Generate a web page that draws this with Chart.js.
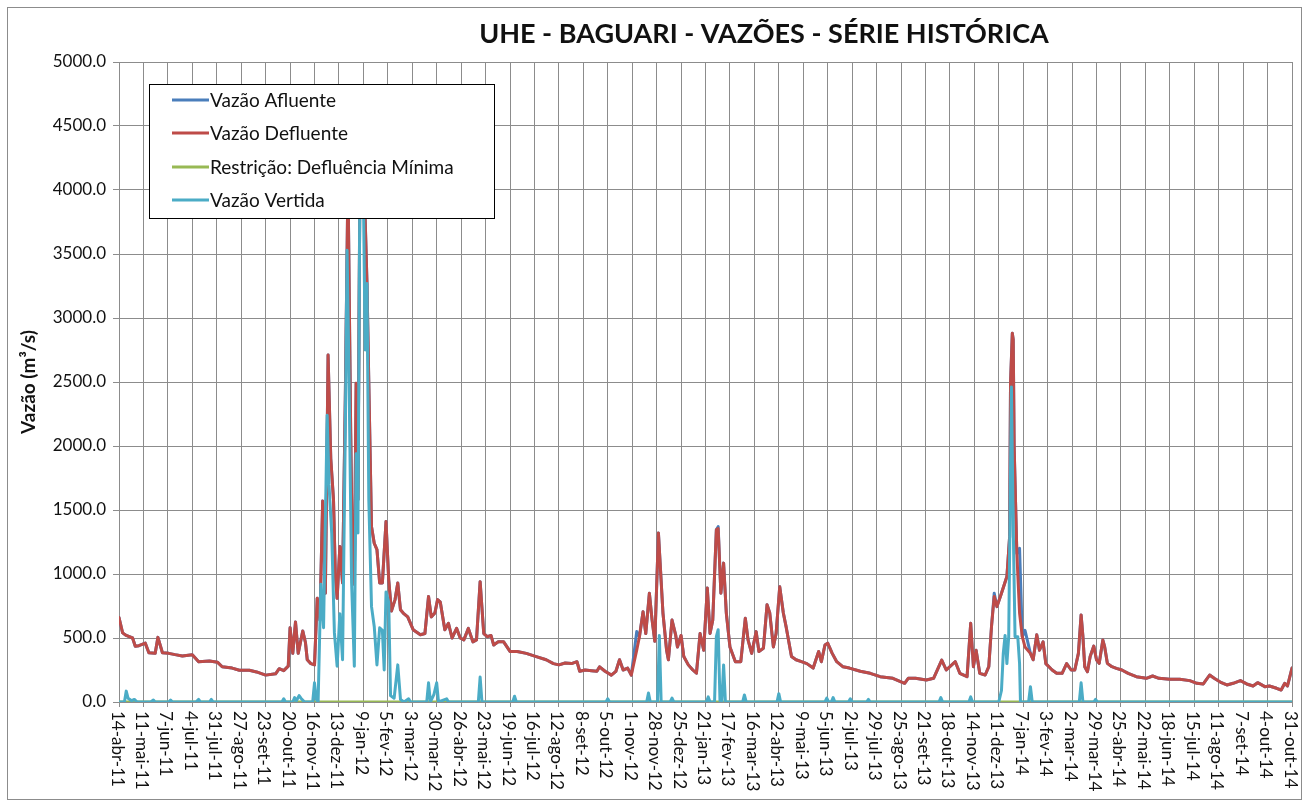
<!DOCTYPE html>
<html lang="pt-BR">
<head>
<meta charset="utf-8">
<title>UHE - Baguari - Vazões</title>
<script src="https://cdn.jsdelivr.net/npm/chart.js@4.4.1/dist/chart.umd.min.js"></script>
<style>
  html, body { margin: 0; padding: 0; background: #fff; }
  #wrap { width: 1309px; height: 806px; position: relative; }
</style>
</head>
<body>
<div id="wrap"><canvas id="chart"></canvas></div>
<script>
const TITULO = 'UHE - BAGUARI - VAZÕES - SÉRIE HISTÓRICA';
const TITULO_Y = 'Vazão (m³/s)';

// one label every 27 days, starting 14-abr-11 (day 0)
const PASSO_DIAS = 27;
const DATAS = [
  '14-abr-11', '11-mai-11', '7-jun-11', '4-jul-11', '31-jul-11', '27-ago-11', '23-set-11',
  '20-out-11', '16-nov-11', '13-dez-11', '9-jan-12', '5-fev-12', '3-mar-12', '30-mar-12',
  '26-abr-12', '23-mai-12', '19-jun-12', '16-jul-12', '12-ago-12', '8-set-12', '5-out-12',
  '1-nov-12', '28-nov-12', '25-dez-12', '21-jan-13', '17-fev-13', '16-mar-13', '12-abr-13',
  '9-mai-13', '5-jun-13', '2-jul-13', '29-jul-13', '25-ago-13', '21-set-13', '18-out-13',
  '14-nov-13', '11-dez-13', '7-jan-14', '3-fev-14', '2-mar-14', '29-mar-14', '25-abr-14',
  '22-mai-14', '18-jun-14', '15-jul-14', '11-ago-14', '7-set-14', '4-out-14', '31-out-14',
];

// [dia, vazão m³/s]
const DEFLUENTE = [
  [0, 660], [4, 540], [8, 520], [15, 500], [18, 435], [22, 440], [29, 460], [33, 385], [40, 380],
  [43, 505], [48, 385], [55, 380], [62, 370], [70, 360], [81, 370], [88, 315], [100, 320],
  [109, 310], [114, 275], [125, 265], [133, 248], [144, 248], [152, 235], [162, 210], [173, 220],
  [177, 260], [182, 245], [187, 280], [189, 580], [192, 380], [195, 625], [198, 380], [203, 555],
  [206, 465], [208, 330], [212, 300], [216, 290], [219, 810], [222, 640], [225, 1570], [228, 850],
  [231, 2710], [234, 1900], [237, 1580], [239, 1000], [241, 810], [244, 1215], [247, 930],
  [250, 2360], [253, 4100], [256, 2100], [258, 1060], [260, 920], [262, 2490], [264, 1580],
  [266, 3900], [270, 4000], [272, 3770], [274, 3270], [276, 2490], [279, 1370], [282, 1240],
  [285, 1190], [288, 930], [291, 930], [295, 1410], [298, 955], [301, 710], [305, 800], [308, 930],
  [311, 720], [314, 695], [319, 665], [325, 565], [333, 525], [338, 535], [342, 825], [345, 665],
  [349, 695], [352, 800], [355, 780], [360, 565], [364, 615], [368, 500], [373, 575], [377, 500],
  [381, 485], [386, 575], [391, 470], [395, 485], [399, 940], [403, 535], [407, 510], [411, 520],
  [414, 445], [419, 470], [425, 470], [432, 395], [440, 395], [450, 380], [461, 355], [472, 330],
  [480, 300], [486, 290], [493, 305], [500, 300], [506, 315], [509, 240], [515, 250], [522, 245],
  [528, 240], [531, 275], [537, 240], [544, 210], [549, 240], [553, 330], [557, 250], [562, 265],
  [566, 210], [572, 405], [575, 510], [579, 705], [582, 535], [586, 850], [589, 640], [592, 475],
  [596, 1320], [601, 695], [605, 405], [607, 330], [611, 640], [615, 525], [617, 430], [621, 520],
  [624, 355], [629, 290], [634, 250], [638, 225], [642, 535], [646, 405], [650, 890], [653, 535],
  [656, 640], [660, 1345], [662, 1355], [665, 850], [668, 1085], [671, 695], [675, 430], [681, 315],
  [687, 315], [692, 655], [695, 485], [699, 380], [704, 550], [707, 395], [712, 420], [716, 760],
  [719, 695], [723, 430], [726, 535], [730, 900], [734, 695], [737, 590], [743, 355], [748, 330],
  [754, 315], [760, 300], [767, 265], [773, 395], [776, 315], [780, 445], [783, 460], [788, 380],
  [793, 315], [800, 275], [807, 265], [819, 240], [830, 224], [841, 198], [855, 185], [868, 146],
  [872, 185], [880, 185], [892, 172], [900, 185], [909, 328], [914, 250], [924, 315], [929, 224],
  [937, 198], [941, 615], [944, 276], [947, 405], [951, 224], [957, 211], [961, 276], [964, 590],
  [967, 825], [970, 745], [975, 850], [981, 980], [984, 1290], [985, 2490], [987, 2880], [988, 2830],
  [989, 2000], [992, 1160], [995, 695], [998, 510], [1001, 430], [1007, 380], [1010, 330],
  [1014, 525], [1017, 405], [1021, 470], [1024, 300], [1031, 250], [1036, 224], [1042, 224],
  [1047, 300], [1052, 250], [1056, 250], [1060, 380], [1063, 680], [1065, 510], [1067, 276],
  [1070, 237], [1073, 355], [1077, 437], [1080, 330], [1083, 302], [1087, 484], [1089, 432],
  [1092, 302], [1097, 276], [1102, 263], [1108, 250], [1115, 224], [1124, 198], [1135, 185],
  [1142, 203], [1149, 185], [1161, 177], [1172, 177], [1183, 167], [1191, 146], [1198, 141],
  [1205, 211], [1210, 185], [1218, 151], [1224, 133], [1231, 146], [1239, 167], [1246, 141],
  [1253, 125], [1258, 151], [1266, 120], [1271, 125], [1279, 107], [1284, 94], [1288, 146],
  [1291, 125], [1296, 265],
];

// afluente sits under defluente almost everywhere; these are the days where it shows above it
const AFLUENTE_DIFERENCAS = [[572, 550], [662, 1370], [967, 850], [995, 1200], [1001, 560]];

const RESTRICAO = [[0, 0], [1296, 0]];

const VERTIDA = [
  [0, 0], [6, 0], [8, 85], [10, 30], [14, 10], [17, 20], [20, 0], [35, 0], [38, 15], [40, 0],
  [55, 0], [57, 15], [59, 0], [85, 0], [88, 20], [90, 0], [100, 0], [102, 20], [104, 0],
  [180, 0], [182, 25], [184, 0], [192, 0], [194, 35], [196, 10], [199, 50], [201, 30], [205, 0],
  [214, 0], [216, 150], [218, 20], [220, 0], [223, 920], [226, 580], [230, 2240], [232, 1700],
  [235, 1320], [238, 540], [241, 280], [244, 690], [247, 330], [250, 2100], [252, 3530],
  [254, 2620], [257, 930], [260, 280], [262, 1940], [264, 1320], [266, 3900], [270, 4000],
  [272, 2750], [274, 3270], [276, 1580], [279, 745], [282, 590], [285, 290], [288, 580], [291, 560],
  [293, 250], [295, 860], [298, 780], [300, 50], [304, 30], [308, 290], [311, 20], [315, 0],
  [320, 25], [322, 0], [340, 0], [342, 150], [344, 0], [348, 60], [351, 150], [353, 0], [362, 25],
  [364, 0], [397, 0], [399, 195], [401, 0], [435, 0], [437, 45], [439, 0], [538, 0], [540, 25],
  [542, 0], [583, 0], [585, 70], [587, 0], [595, 0], [597, 520], [599, 0], [609, 0], [611, 30],
  [613, 0], [649, 0], [651, 40], [653, 0], [658, 0], [660, 510], [662, 565], [664, 10], [666, 0],
  [668, 290], [670, 0], [689, 0], [691, 55], [693, 0], [727, 0], [729, 65], [731, 0], [780, 0],
  [782, 30], [784, 0], [787, 0], [789, 35], [791, 0], [806, 0], [808, 25], [810, 0], [826, 0],
  [828, 20], [830, 0], [906, 0], [908, 34], [910, 0], [939, 0], [941, 40], [943, 0], [972, 0],
  [975, 90], [977, 380], [979, 520], [981, 300], [983, 510], [984, 1160], [986, 2460], [988, 1370],
  [990, 510], [993, 510], [995, 300], [996, 0], [1005, 0], [1007, 120], [1009, 0], [1061, 0],
  [1063, 150], [1065, 0], [1077, 0], [1079, 20], [1081, 0], [1296, 0],
];

const FONTE = 'Lato, "Open Sans", sans-serif';
const COR_GRADE = '#8c8c8c';

const toXY = (pares) => pares.map(([x, y]) => ({ x, y }));
const difMap = new Map(AFLUENTE_DIFERENCAS);
const afluente = DEFLUENTE.map(([d, v]) => [d, difMap.has(d) ? difMap.get(d) : v]);

const decoracao = {
  id: 'decoracao',
  afterDraw(chart) {
    const { ctx } = chart;
    const xScale = chart.scales.x;
    ctx.save();

    // outer frame
    ctx.strokeStyle = COR_GRADE;
    ctx.lineWidth = 1;
    ctx.strokeRect(7.5, 7.5, 1294, 792);

    // title
    ctx.fillStyle = '#111';
    ctx.font = `bold 27px ${FONTE}`;
    ctx.textAlign = 'center';
    ctx.textBaseline = 'alphabetic';
    ctx.fillText(TITULO, 764, 43);

    // date labels, rotated clockwise
    ctx.font = `17px ${FONTE}`;
    ctx.textAlign = 'left';
    ctx.textBaseline = 'middle';
    DATAS.forEach((label, i) => {
      const x = xScale.getPixelForValue(i * PASSO_DIAS);
      ctx.save();
      ctx.translate(x - 2, 711);
      ctx.rotate(Math.PI / 2);
      ctx.fillText(label, 0, 0);
      ctx.restore();
    });

    // legend box inside the plot
    ctx.fillStyle = '#fff';
    ctx.fillRect(149.5, 84.5, 345, 134);
    ctx.strokeStyle = '#000';
    ctx.strokeRect(149.5, 84.5, 345, 134);
    const linhas = [100, 133, 167, 200];
    ctx.font = `19px ${FONTE}`;
    chart.data.datasets.forEach((ds, i) => {
      const y = linhas[i];
      ctx.strokeStyle = ds.borderColor;
      ctx.lineWidth = 3;
      ctx.beginPath();
      ctx.moveTo(172, y);
      ctx.lineTo(209, y);
      ctx.stroke();
      ctx.fillStyle = '#111';
      ctx.fillText(ds.label, 210, y + 1);
    });
    ctx.restore();
  },
};

new Chart(document.getElementById('chart'), {
  type: 'line',
  data: {
    datasets: [
      { label: 'Vazão Afluente', data: toXY(afluente), borderColor: '#4a7ebb', order: 4 },
      { label: 'Vazão Defluente', data: toXY(DEFLUENTE), borderColor: '#be4b48', order: 3 },
      { label: 'Restrição: Defluência Mínima', data: toXY(RESTRICAO), borderColor: '#98b954', order: 2 },
      { label: 'Vazão Vertida', data: toXY(VERTIDA), borderColor: '#4bacc6', order: 1 },
    ],
  },
  options: {
    responsive: true,
    maintainAspectRatio: false,
    animation: false,
    layout: { padding: { top: 62, right: 17, bottom: 99, left: 0 } },
    elements: {
      line: { borderWidth: 3, tension: 0, borderJoinStyle: 'round', borderCapStyle: 'round' },
      point: { radius: 0, hoverRadius: 0 },
    },
    plugins: {
      legend: { display: false },
      tooltip: { enabled: false },
    },
    scales: {
      x: {
        type: 'linear',
        min: 0,
        max: (DATAS.length - 1) * PASSO_DIAS,
        afterBuildTicks: (scale) => {
          scale.ticks = DATAS.map((_, i) => ({ value: i * PASSO_DIAS }));
        },
        ticks: { display: false },
        grid: { color: COR_GRADE, tickLength: 5 },
        border: { color: COR_GRADE },
      },
      y: {
        min: 0,
        max: 5000,
        ticks: {
          stepSize: 500,
          padding: 7,
          color: '#111',
          font: { family: FONTE, size: 17 },
          callback: (v) => v.toFixed(1),
        },
        grid: { color: COR_GRADE, tickLength: 6 },
        border: { color: COR_GRADE },
        title: {
          display: true,
          text: TITULO_Y,
          color: '#111',
          font: { family: FONTE, size: 19, weight: 'bold' },
          padding: { top: 17, bottom: 0 },
        },
        afterFit: (scale) => {
          scale.width = 119;
        },
      },
    },
  },
  plugins: [decoracao],
});
</script>
</body>
</html>
